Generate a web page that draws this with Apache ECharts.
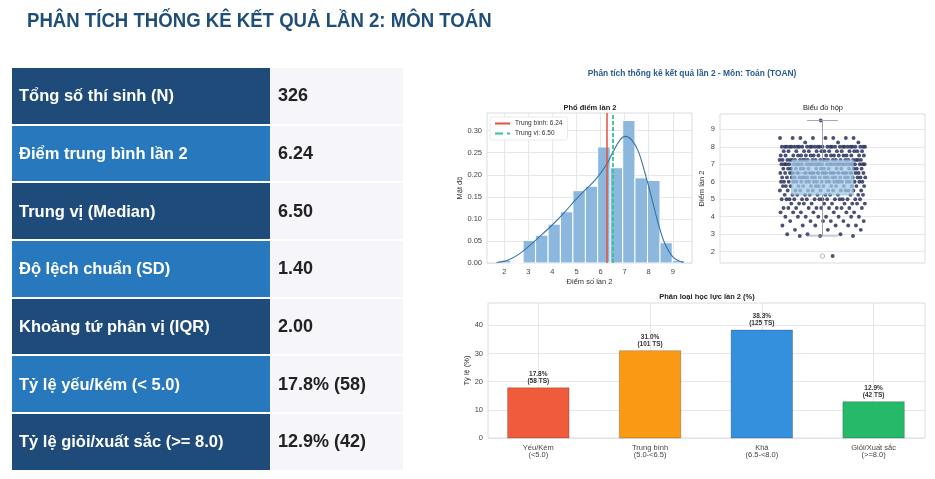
<!DOCTYPE html>
<html><head><meta charset="utf-8">
<script src="https://cdn.jsdelivr.net/npm/echarts@6/dist/echarts.min.js"></script>
<style>
html,body{margin:0;padding:0;background:#fff;width:935px;height:479px;overflow:hidden;font-family:'Liberation Sans',Arial,sans-serif;}
#title{position:absolute;left:27px;top:10px;font-size:20px;line-height:20px;font-weight:bold;color:#1f4e79;white-space:nowrap;transform-origin:0 0;z-index:3;}
#table{position:absolute;left:12px;top:68px;width:391px;z-index:3;}
.row{display:flex;height:55.7px;margin-bottom:2px;}
.lab{width:258px;color:#fff;font-weight:bold;font-size:16.5px;display:flex;align-items:center;padding-left:7px;box-sizing:border-box;}
.val{width:133px;background:#f5f5fa;color:#222;font-weight:bold;font-size:18px;display:flex;align-items:center;padding-left:8px;box-sizing:border-box;}
#chart{position:absolute;left:0;top:0;width:935px;height:479px;z-index:1;}
</style></head>
<body>
<div id="chart"></div>
<div id="title"></div>
<div id="table"></div>
<script>
// ---------------- data ----------------
const pageTitle = 'PHÂN TÍCH THỐNG KÊ KẾT QUẢ LẦN 2: MÔN TOÁN';
const statLabels = ['Tổng số thí sinh (N)','Điểm trung bình lần 2','Trung vị (Median)','Độ lệch chuẩn (SD)','Khoảng tứ phân vị (IQR)','Tỷ lệ yếu/kém (< 5.0)','Tỷ lệ giỏi/xuất sắc (>= 8.0)'];
const statValues = ['326','6.24','6.50','1.40','2.00','17.8% (58)','12.9% (42)'];

const figTitle = 'Phân tích thống kê kết quả lần 2 - Môn: Toán (TOAN)';
const binEdges = [1.75,2.27,2.78,3.30,3.82,4.33,4.85,5.37,5.88,6.40,6.92,7.43,7.95,8.47,8.98,9.50];
const binDensity = [0.006,0,0.051,0.063,0.088,0.116,0.164,0.174,0.263,0.216,0.323,0.193,0.187,0.046,0.006];
const kdeX = [1.68,2.17,2.58,3.00,3.41,3.97,4.52,4.94,5.35,5.77,6.19,6.53,6.81,7.02,7.29,7.57,7.85,8.13,8.40,8.68,9.02,9.44];
const kdeY = [0.001,0.007,0.019,0.037,0.057,0.085,0.116,0.142,0.165,0.188,0.218,0.253,0.279,0.287,0.279,0.253,0.203,0.146,0.089,0.043,0.013,0.001];
const meanScore = 6.24;
const medianScore = 6.50;
const scoreTicks = [2,3,4,5,6,7,8,9];
const densityTicks = [0,0.05,0.10,0.15,0.20,0.25,0.30];

const boxStats = [2.9,5.25,6.5,7.25,9.5]; // lower whisker, Q1, median, Q3, upper whisker
const outlierScores = [1.75];
const stripLevels = [1.75,2.9,3.0,3.25,3.5,3.75,4.0,4.25,4.5,4.75,5.0,5.25,5.5,5.75,6.0,6.25,6.5,6.75,7.0,7.25,7.5,7.75,8.0,8.25,8.5,9.5];
const stripCounts = [1,3,3,3,6,6,8,7,11,10,16,12,14,15,22,22,20,17,30,25,18,15,30,3,8,1];

const classNames = ['Yếu/Kém\n(<5.0)','Trung bình\n(5.0-<6.5)','Khá\n(6.5-<8.0)','Giỏi/Xuất sắc\n(>=8.0)'];
const classPct = [17.8,31.0,38.3,12.9];
const classCount = [58,101,125,42];
const classColors = ['#f05b3b','#f99a15','#3490dc','#26b969'];
const pctTicks = [0,10,20,30,40];

// ---------------- HTML part ----------------
const tEl = document.getElementById('title');
tEl.textContent = pageTitle;
tEl.style.transform = 'scaleX(' + (465 / tEl.offsetWidth) + ')';
const tab = document.getElementById('table');
statLabels.forEach((l, i) => {
  const r = document.createElement('div'); r.className = 'row';
  const a = document.createElement('div'); a.className = 'lab'; a.textContent = l;
  a.style.background = i % 2 === 0 ? '#1f4b7a' : '#2878bd';
  const b = document.createElement('div'); b.className = 'val'; b.textContent = statValues[i];
  r.appendChild(a); r.appendChild(b); tab.appendChild(r);
});

// ---------------- chart ----------------
const FF = 'Liberation Sans';
const gridLine = {show:true, lineStyle:{color:'#e0e0e8', width:0.8}};
const lbl = (vals, extra) => Object.assign({fontSize:7.5, color:'#444', fontFamily:FF, customValues:vals, margin:5}, extra||{});

const stripData = [];
let g = 0;
stripLevels.forEach((lv, j) => {
  for (let k = 0; k < stripCounts[j]; k++) {
    g++;
    stripData.push([(((g * 0.6180339887) % 1) - 0.5) * 0.42, lv]);
  }
});

const option = {
  animation:false,
  textStyle:{fontFamily:FF},
  grid:[
    {left:487, top:113, width:205, height:150, show:true, borderColor:'#d3d3db', borderWidth:0.8, backgroundColor:'transparent'},
    {left:720, top:114, width:205, height:149, show:true, borderColor:'#d3d3db', borderWidth:0.8, backgroundColor:'transparent'},
    {left:488, top:303, width:437, height:135, show:true, borderColor:'#d3d3db', borderWidth:0.8, backgroundColor:'transparent'}
  ],
  xAxis:[
    {type:'value', gridIndex:0, min:1.28, max:9.80, axisLine:{show:false}, axisTick:{show:false, customValues:scoreTicks},
     axisLabel:lbl(scoreTicks), splitLine:gridLine,
     name:'Điểm số lần 2', nameLocation:'middle', nameGap:15, nameTextStyle:{fontSize:7.5, color:'#333'}},
    {type:'value', gridIndex:1, min:-0.5, max:0.5, axisLine:{show:false}, axisTick:{show:false}, axisLabel:{show:false}, splitLine:{show:false}},
    {type:'value', gridIndex:2, min:-0.45, max:3.46, axisLine:{show:false}, axisTick:{show:false, customValues:classNames.map((_, i) => i)},
     axisLabel:lbl(classNames.map((_, i) => i), {formatter:v => classNames[Math.round(v)], lineHeight:7.5, fontSize:7.5, margin:6}), splitLine:gridLine}
  ],
  yAxis:[
    {type:'value', gridIndex:0, min:0, max:0.34, axisLine:{show:false}, axisTick:{show:false, customValues:densityTicks},
     axisLabel:lbl(densityTicks, {formatter:v => v.toFixed(2)}), splitLine:gridLine,
     name:'Mật độ', nameLocation:'middle', nameGap:21, nameTextStyle:{fontSize:7.5, color:'#333'}},
    {type:'value', gridIndex:1, min:1.354, max:9.874, axisLine:{show:false}, axisTick:{show:false, customValues:scoreTicks},
     axisLabel:lbl(scoreTicks), splitLine:gridLine,
     name:'Điểm lần 2', nameLocation:'middle', nameGap:14, nameTextStyle:{fontSize:7.5, color:'#333'}},
    {type:'value', gridIndex:2, min:0, max:47.9, axisLine:{show:false}, axisTick:{show:false, customValues:pctTicks},
     axisLabel:lbl(pctTicks), splitLine:gridLine,
     name:'Tỷ lệ (%)', nameLocation:'middle', nameGap:15, nameTextStyle:{fontSize:7.5, color:'#333'}}
  ],
  legend:{
    data:['Trung bình: ' + meanScore.toFixed(2), 'Trung vị: ' + medianScore.toFixed(2)],
    left:490, top:117, orient:'vertical', itemWidth:15, itemHeight:6, itemGap:3,
    padding:[3,5,3,4], textStyle:{fontSize:6.5, color:'#333'},
    itemStyle:{opacity:0},
    backgroundColor:'#fff', borderColor:'#dddddd', borderWidth:0.6, borderRadius:2
  },
  graphic:[
    {type:'text', x:692, y:74, style:{text:figTitle, font:'bold 8.4px ' + FF, fill:'#2b5b8c', align:'center', verticalAlign:'middle', textAlign:'center', textVerticalAlign:'middle'}},
    {type:'text', x:590, y:108, style:{text:'Phổ điểm lần 2', font:'bold 7.5px ' + FF, fill:'#222', align:'center', verticalAlign:'middle', textAlign:'center', textVerticalAlign:'middle'}},
    {type:'text', x:823, y:108, style:{text:'Biểu đồ hộp', font:'7.5px ' + FF, fill:'#222', align:'center', verticalAlign:'middle', textAlign:'center', textVerticalAlign:'middle'}},
    {type:'text', x:707, y:297, style:{text:'Phân loại học lực lần 2 (%)', font:'bold 7.5px ' + FF, fill:'#222', align:'center', verticalAlign:'middle', textAlign:'center', textVerticalAlign:'middle'}}
  ],
  series:[
    {type:'custom', xAxisIndex:0, yAxisIndex:0, z:2,
     data:binDensity.map((d, i) => [binEdges[i], binEdges[i + 1], d]),
     encode:{x:[0,1], y:2},
     renderItem:(p, api) => {
       const a = api.coord([api.value(0), api.value(2)]);
       const b = api.coord([api.value(1), 0]);
       return {type:'rect', shape:{x:a[0], y:a[1], width:b[0] - a[0], height:b[1] - a[1]},
               style:{fill:'#8cb8de', stroke:'#ffffff', lineWidth:1}};
     }},
    {type:'line', xAxisIndex:0, yAxisIndex:0, z:3, data:kdeX.map((x, i) => [x, kdeY[i]]),
     smooth:0.35, symbol:'none', lineStyle:{color:'#3473a8', width:1.1}},
    {type:'line', name:'Trung bình: ' + meanScore.toFixed(2), xAxisIndex:0, yAxisIndex:0, z:4, data:[],
     symbol:'none', itemStyle:{color:'#e8503a'}, lineStyle:{color:'#e8503a', width:1.5},
     markLine:{silent:true, symbol:'none', label:{show:false}, lineStyle:{color:'#e8503a', width:1.5, type:'solid'}, data:[{xAxis:meanScore}]}},
    {type:'line', name:'Trung vị: ' + medianScore.toFixed(2), xAxisIndex:0, yAxisIndex:0, z:4, data:[],
     symbol:'none', itemStyle:{color:'#35c48a'}, lineStyle:{color:'#35c48a', width:1.5, type:'dashed'},
     markLine:{silent:true, symbol:'none', label:{show:false}, lineStyle:{color:'#35c48a', width:1.8, type:[4,2]}, data:[{xAxis:medianScore}]}},
    {type:'scatter', xAxisIndex:1, yAxisIndex:1, z:2, data:stripData,
     symbolSize:3.9, itemStyle:{color:'#29335e', opacity:0.85}},
    {type:'custom', xAxisIndex:1, yAxisIndex:1, z:3,
     data:[[0].concat(boxStats)],
     encode:{x:0, y:[1,2,3,4,5]},
     renderItem:(p, api) => {
       const c = api.value(0);
       const lo = api.value(1), q1 = api.value(2), md = api.value(3), q3 = api.value(4), hi = api.value(5);
       const P = (x, y) => api.coord([x, y]);
       const ln = (x1, y1, x2, y2, col, w) => {
         const a = P(x1, y1), b = P(x2, y2);
         return {type:'line', shape:{x1:a[0], y1:a[1], x2:b[0], y2:b[1]}, style:{stroke:col, lineWidth:w}};
       };
       const tl = P(c - 0.15, q3), br = P(c + 0.15, q1);
       return {type:'group', children:[
         ln(c, q3, c, hi, '#9a9aa5', 0.9), ln(c, lo, c, q1, '#9a9aa5', 0.9),
         ln(c - 0.075, hi, c + 0.075, hi, '#9a9aa5', 0.9), ln(c - 0.075, lo, c + 0.075, lo, '#9a9aa5', 0.9),
         {type:'rect', shape:{x:tl[0], y:tl[1], width:br[0] - tl[0], height:br[1] - tl[1]},
          style:{fill:'rgba(165,203,233,0.74)', stroke:'rgba(130,170,210,0.85)', lineWidth:0.8}},
         ln(c - 0.15, md, c + 0.15, md, 'rgba(110,150,195,0.8)', 1)
       ]};
     }},
    {type:'scatter', xAxisIndex:1, yAxisIndex:1, z:4, data:outlierScores.map(v => [0, v]),
     symbol:'circle', symbolSize:4.5, itemStyle:{color:'#ffffff', borderColor:'#888', borderWidth:0.7}},
    {type:'custom', xAxisIndex:2, yAxisIndex:2, z:2,
     data:classPct.map((v, i) => [i, v, classCount[i]]),
     encode:{x:0, y:1},
     renderItem:(p, api) => {
       const i = api.value(0), v = api.value(1), n = api.value(2);
       const a = api.coord([i - 0.275, v]), b = api.coord([i + 0.275, 0]);
       return {type:'group', children:[
         {type:'rect', shape:{x:a[0], y:a[1], width:b[0] - a[0], height:b[1] - a[1]},
          style:{fill:classColors[p.dataIndex], stroke:'rgba(0,0,0,0.3)', lineWidth:0.7}},
         {type:'text', x:(a[0] + b[0]) / 2, y:a[1] - 3,
          style:{text:v.toFixed(1) + '%\n(' + n + ' TS)', font:'bold 6.5px ' + FF, fill:'#333', lineHeight:7,
                 align:'center', verticalAlign:'bottom', textAlign:'center', textVerticalAlign:'bottom'}}
       ]};
     }}
  ]
};
const chart = echarts.init(document.getElementById('chart'), null, {renderer:'canvas'});
chart.setOption(option);
</script>
</body></html>
